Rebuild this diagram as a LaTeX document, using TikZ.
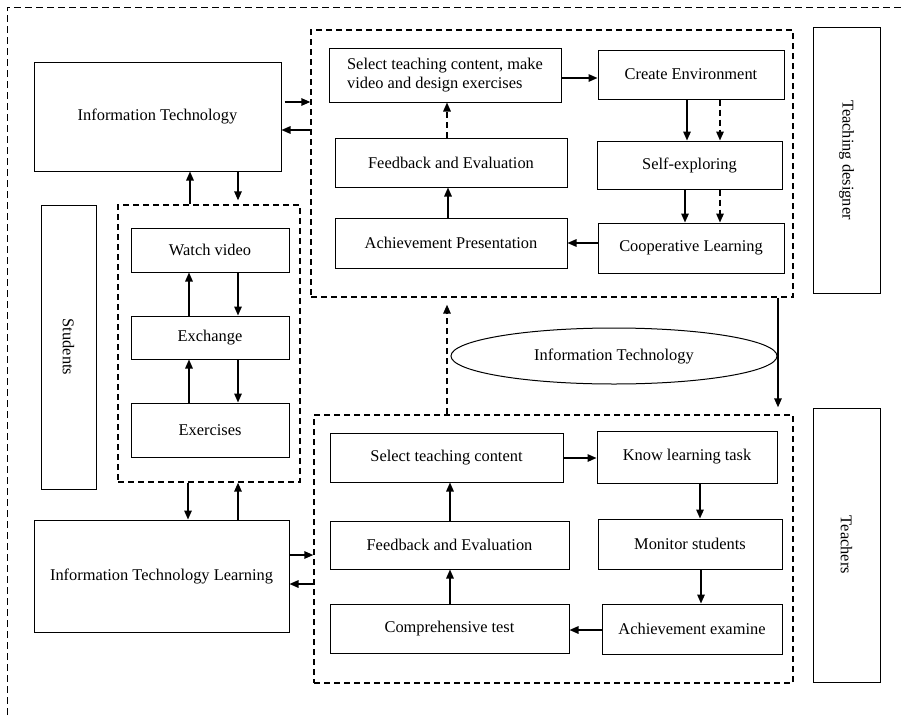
\documentclass[tikz,border=0pt]{standalone}
\usepackage{fontspec}
\setmainfont{Liberation Serif}
\usetikzlibrary{arrows.meta,shapes.geometric}
\tikzset{
  box/.style={draw, line width=1pt, inner sep=0pt, align=center,
    font=\fontsize{16.4}{19}\selectfont},
  grp/.style={draw, line width=1.4pt, dash pattern=on 6pt off 4pt, inner sep=0pt},
  arr/.style={line width=1.5pt, -{Triangle[length=9pt,width=7.5pt]}},
  darr/.style={arr, dash pattern=on 6pt off 4pt},
}
\begin{document}
\begin{tikzpicture}[x=1pt,y=-1pt]
\useasboundingbox (0,0) rectangle (905,715);
% outer frame
\draw[line width=1pt, dash pattern=on 7pt off 4pt] (7,715) -- (7,7) -- (905,7);
% groups
\node[grp, minimum width=482pt, minimum height=267pt] (G1) at (552,163.5) {};
\node[grp, minimum width=479pt, minimum height=268pt] (G2) at (553.5,549) {};
\node[grp, minimum width=182pt, minimum height=277pt] (G3) at (209,343.5) {};
% left
\node[box, minimum width=247pt, minimum height=109pt] (IT1) at (157.5,116.5) {Information Technology};
\node[box, minimum width=255pt, minimum height=112pt] (ITL) at (161.5,576) {Information Technology Learning};
\node[box, minimum width=55pt, minimum height=284pt] (ST) at (68.5,347) {};
\node[font=\fontsize{16.4}{19}\selectfont, rotate=-90] at (ST.center) {Students};
\node[box, minimum width=158pt, minimum height=44pt] (WV) at (210,250) {Watch video};
\node[box, minimum width=158pt, minimum height=43pt] (EX) at (210,337.5) {Exchange};
\node[box, minimum width=158pt, minimum height=54pt] (EXR) at (210,430) {Exercises};
% top group
\node[box, minimum width=232pt, minimum height=54pt, align=left] (S1) at (445,75) {Select teaching content, make\\video and design exercises};
\node[box, minimum width=186pt, minimum height=49pt] (CE) at (691,74.5) {Create Environment};
\node[box, minimum width=232pt, minimum height=49pt] (FE1) at (451,162.5) {Feedback and Evaluation};
\node[box, minimum width=185pt, minimum height=48pt] (SE) at (689.5,165) {Self-exploring};
\node[box, minimum width=232pt, minimum height=50pt] (AP) at (451,243) {Achievement Presentation};
\node[box, minimum width=186pt, minimum height=50pt] (CL) at (691,248) {Cooperative Learning};
\node[box, minimum width=67pt, minimum height=266pt] (TD) at (846.5,160) {};
\node[font=\fontsize{16.4}{19}\selectfont, rotate=-90] at (TD.center) {Teaching designer};
% ellipse
\node[ellipse, draw, line width=1pt, minimum width=326pt, minimum height=56pt, inner sep=0pt,
  font=\fontsize{16.4}{19}\selectfont] (EL) at (614,356) {Information Technology};
% bottom group
\node[box, minimum width=233pt, minimum height=49pt] (S2) at (446.5,457.5) {Select teaching content};
\node[box, minimum width=180pt, minimum height=52pt] (KT) at (687,457) {Know learning task};
\node[box, minimum width=239pt, minimum height=48pt] (FE2) at (449.5,545) {Feedback and Evaluation};
\node[box, minimum width=184pt, minimum height=50pt] (MS) at (690,544) {Monitor students};
\node[box, minimum width=239pt, minimum height=49pt] (CT) at (449.5,628.5) {Comprehensive test};
\node[box, minimum width=180pt, minimum height=50pt] (AE) at (692,629) {Achievement examine};
\node[box, minimum width=67pt, minimum height=274pt] (TE) at (846.5,545) {};
\node[font=\fontsize{16.4}{19}\selectfont, rotate=-90] at (TE.center) {Teachers};
% arrows: left
\draw[arr, shorten <=3pt] (IT1.east |- 0,102) -- (G1.west |- 0,102);
\draw[arr] (G1.west |- 0,130) -- (IT1.east |- 0,130);
\draw[arr] (G3.north -| 190,0) -- (IT1.south -| 190,0);
\draw[arr, shorten >=4pt] (IT1.south -| 238,0) -- (G3.north -| 238,0);
\draw[arr] (EX.north -| 189,0) -- (WV.south -| 189,0);
\draw[arr] (WV.south -| 238,0) -- (EX.north -| 238,0);
\draw[arr] (EXR.north -| 189,0) -- (EX.south -| 189,0);
\draw[arr] (EX.south -| 238,0) -- (EXR.north -| 238,0);
\draw[arr] (G3.south -| 188,0) -- (ITL.north -| 188,0);
\draw[arr] (ITL.north -| 238,0) -- (G3.south -| 238,0);
\draw[arr] (ITL.east |- 0,555) -- (G2.west |- 0,555);
\draw[arr] (G2.west |- 0,584) -- (ITL.east |- 0,584);
% top group arrows
\draw[arr] (S1.east |- 0,78) -- (CE.west |- 0,78);
\draw[darr] (FE1.north -| 447,0) -- (S1.south -| 447,0);
\draw[arr] (AP.north -| 448,0) -- (FE1.south -| 448,0);
\draw[arr] (CE.south -| 687,0) -- (SE.north -| 687,0);
\draw[darr] (CE.south -| 720,0) -- (SE.north -| 720,0);
\draw[arr] (SE.south -| 685,0) -- (CL.north -| 685,0);
\draw[darr] (SE.south -| 720,0) -- (CL.north -| 720,0);
\draw[arr] (CL.west |- 0,243) -- (AP.east |- 0,243);
% between groups
\draw[arr, shorten >=7pt] (G1.south -| 778,0) -- (G2.north -| 778,0);
\draw[darr, shorten >=7pt] (G2.north -| 447,0) -- (G1.south -| 447,0);
% bottom group arrows
\draw[arr] (S2.east |- 0,458) -- (KT.west |- 0,458);
\draw[arr] (KT.south -| 700,0) -- (MS.north -| 700,0);
\draw[arr] (MS.south -| 701,0) -- (AE.north -| 701,0);
\draw[arr] (AE.west |- 0,630) -- (CT.east |- 0,630);
\draw[arr] (CT.north -| 450,0) -- (FE2.south -| 450,0);
\draw[arr] (FE2.north -| 450,0) -- (S2.south -| 450,0);
\end{tikzpicture}
\end{document}
